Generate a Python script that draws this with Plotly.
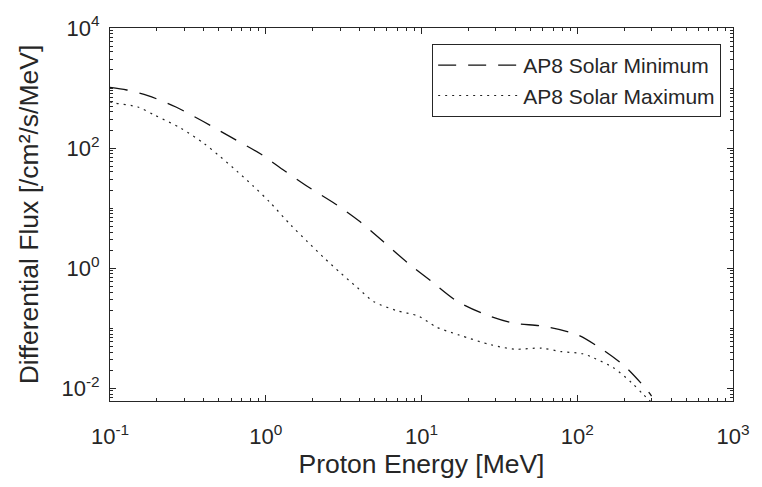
import numpy as np
import plotly.graph_objects as go

# Proton energy [MeV] and differential flux [/cm^2/s/MeV]
energy_min = [0.1, 0.128, 0.175, 0.265, 0.40, 0.59, 0.94, 1.285, 1.90, 2.80, 4.04, 5.68,
              8.17, 11.5, 16.6, 25.0, 38.7, 60.0, 100, 140.6, 202, 278, 300]
flux_min = [1023, 927, 748, 483, 274, 155, 78, 44, 22, 11.7, 5.9, 2.77,
            1.22, 0.61, 0.29, 0.174, 0.122, 0.108, 0.078, 0.0465, 0.0232, 0.0096, 0.0074]

energy_max = [0.1, 0.108, 0.151, 0.193, 0.285, 0.40, 0.51, 0.65, 0.83, 1.06, 1.45, 1.85,
              2.37, 3.01, 3.85, 4.91, 6.89, 9.6, 12.4, 17.4, 28.2, 39.7, 58.6, 78.5,
              108, 128, 171, 223, 265, 300]
flux_max = [589, 561, 483, 355, 214, 120, 72, 41.7, 23.4, 12.6, 5.2, 2.77,
            1.48, 0.84, 0.48, 0.28, 0.197, 0.158, 0.105, 0.077, 0.0526, 0.0447, 0.0465, 0.0408,
            0.0375, 0.0318, 0.0219, 0.0124, 0.0079, 0.0058]

series_names = ["AP8 Solar Minimum", "AP8 Solar Maximum"]

x_major = [0.1, 1, 10, 100, 1000]
x_major_text = ["10<sup>-1</sup>", "10<sup>0</sup>", "10<sup>1</sup>", "10<sup>2</sup>", "10<sup>3</sup>"]
y_major = [0.01, 1, 100, 10000]
y_major_text = ["10<sup>-2</sup>", "10<sup>0</sup>", "10<sup>2</sup>", "10<sup>4</sup>"]

XR = [-1, 3]
YR = [-2.213, 4]

ink = "#262626"
font = "Liberation Sans, Arial, sans-serif"

def minor_vals(lo, hi, majors):
    vals = []
    for k in range(int(np.floor(lo)) - 1, int(np.ceil(hi)) + 1):
        for m in range(1, 10):
            v = m * 10.0 ** k
            lv = np.log10(v)
            if lo - 1e-9 <= lv <= hi + 1e-9 and not any(abs(v - M) / M < 1e-9 for M in majors):
                vals.append(v)
    return vals

fig = go.Figure()
fig.add_trace(go.Scatter(x=energy_min, y=flux_min, mode="lines", name=series_names[0],
                         line=dict(color="#111111", width=1.3, dash="18px,12px", shape="spline", smoothing=0.8)))
fig.add_trace(go.Scatter(x=energy_max, y=flux_max, mode="lines", name=series_names[1],
                         line=dict(color="#222222", width=1.2, dash="2px,5px", shape="spline", smoothing=0.8)))
fig.add_trace(go.Scatter(x=[], y=[], xaxis="x2", yaxis="y2", showlegend=False, hoverinfo="skip"))

axis_common = dict(type="log", showgrid=False, zeroline=False, showline=True, linecolor=ink,
                   linewidth=1, mirror="ticks", ticks="inside", ticklen=6, tickcolor=ink, tickwidth=1,
                   tickfont=dict(family=font, size=22, color=ink))

fig.update_layout(
    width=762, height=487,
    margin=dict(l=110, r=21, t=23, b=86),
    paper_bgcolor="white", plot_bgcolor="white",
    font=dict(family=font, color=ink),
    xaxis=dict(axis_common, range=XR, tickmode="array", tickvals=x_major, ticktext=x_major_text,
               ticklabelstandoff=16,
               title=dict(text="Proton Energy [MeV]", font=dict(family=font, size=26.5, color=ink), standoff=6)),
    yaxis=dict(axis_common, range=YR, tickmode="array", tickvals=y_major, ticktext=y_major_text,
               ticklabelstandoff=5,
               title=dict(text="Differential Flux [/cm²/s/MeV]", font=dict(family=font, size=26.5, color=ink), standoff=15)),
    xaxis2=dict(type="log", range=XR, overlaying="x", anchor="y2", side="bottom", showgrid=False,
                zeroline=False, showline=False, mirror="ticks", ticks="inside", ticklen=3,
                tickcolor=ink, tickwidth=1, showticklabels=False, tickmode="array",
                tickvals=minor_vals(XR[0], XR[1], x_major)),
    yaxis2=dict(type="log", range=YR, overlaying="y", anchor="x2", side="left", showgrid=False,
                zeroline=False, showline=False, mirror="ticks", ticks="inside", ticklen=3,
                tickcolor=ink, tickwidth=1, showticklabels=False, tickmode="array",
                tickvals=minor_vals(YR[0], YR[1], y_major)),
    legend=dict(x=0.981, y=0.957, xanchor="right", yanchor="top", bgcolor="white",
                bordercolor=ink, borderwidth=1, itemwidth=80,
                font=dict(family=font, size=21, color=ink), tracegroupgap=0),
    showlegend=True,
)

fig.write_html("out.html")
